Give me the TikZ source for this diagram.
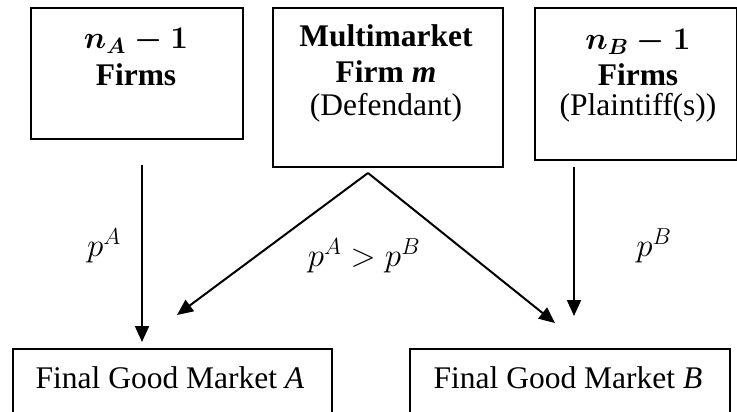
\RequirePackage{fix-cm}
\documentclass[tikz,border=0pt]{standalone}
\usepackage{fontspec}
\setmainfont{Liberation Serif}
\usetikzlibrary{arrows.meta}
\tikzset{
  boxshape/.style={draw, line width=1.8pt, rectangle, inner sep=0pt, anchor=north west},
  txt/.style={anchor=base, inner sep=0pt, font=\fontsize{31.5}{35}\selectfont},
  btxt/.style={txt, font=\fontsize{31.5}{35}\selectfont\bfseries\boldmath},
  mtxt/.style={anchor=base, inner sep=0pt, font=\fontsize{33}{36}\selectfont},
  arr/.style={line width=2pt, -{Triangle[length=16pt,width=14pt]}}
}
\begin{document}
\begin{tikzpicture}[x=1pt,y=-1pt]
\clip (0,0) rectangle (737,412);
\useasboundingbox (0,0) rectangle (737,412);
% boxes
\node[boxshape, minimum width=212pt, minimum height=131pt] (fa) at (30,7) {};
\node[boxshape, minimum width=230pt, minimum height=159pt] (fm) at (272,7) {};
\node[boxshape, minimum width=202pt, minimum height=152pt] (fb) at (534,7) {};
\node[boxshape, minimum width=319pt, minimum height=80pt] (ma) at (12,348) {};
\node[boxshape, minimum width=320pt, minimum height=80pt] (mb) at (409,348) {};
% texts
\node[btxt] (fa1) at (136,49) {$n_A-1$};
\node[btxt] (fa2) at (136,86) {Firms};
\node[btxt] (fm1) at (386,47) {Multimarket};
\node[btxt] (fm2) at (386,83) {Firm \textit{m}};
\node[txt] (fm3) at (386,116) {(Defendant)};
\node[btxt] (fb1) at (638,50) {$n_B-1$};
\node[btxt] (fb2) at (638,85) {Firms};
\node[txt] (fb3) at (638,115) {(Plaintiff(s))};
\node[txt] (ma1) at (170,388) {Final Good Market \textit{A}};
\node[txt] (mb1) at (568,388) {Final Good Market \textit{B}};
% arrow endpoints
\coordinate (sa) at (142,165);
\coordinate (ea) at (142,342);
\coordinate (sb) at (574,167);
\coordinate (eb) at (574,316);
\coordinate (apex) at (368,173);
\coordinate (ela) at (177,315);
\coordinate (elb) at (555,323);
\draw[arr] (sa) -- (ea);
\draw[arr] (sb) -- (eb);
\draw[arr] (apex) -- (ela);
\draw[arr] (apex) -- (elb);
% labels
\node[mtxt] (la) at (104,256) {$p^A$};
\node[mtxt] (lb) at (654,256) {$p^B$};
\node[mtxt] (lab) at (364,266) {$p^A>p^B$};
\end{tikzpicture}
\end{document}
